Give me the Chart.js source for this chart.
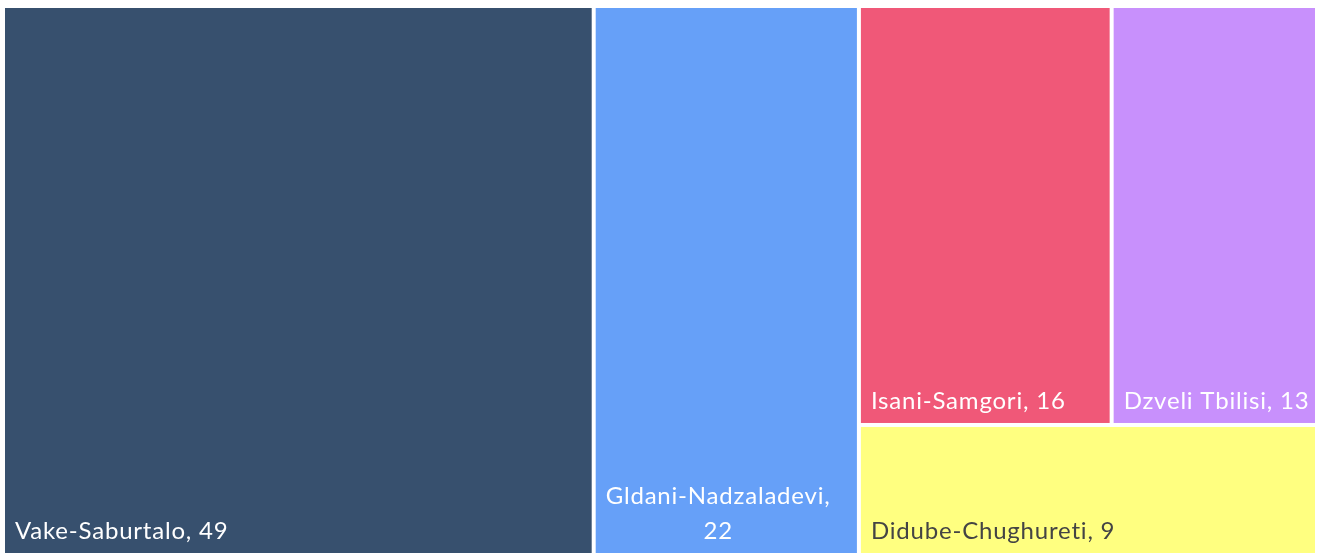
<!DOCTYPE html>
<html>
<head>
<meta charset="utf-8">
<script src="https://cdn.jsdelivr.net/npm/chart.js@4.4.1/dist/chart.umd.min.js"></script>
<style>
  html, body { margin: 0; padding: 0; background: #fff; overflow: hidden; }
  #wrap { position: relative; width: 1317px; height: 555px; }
</style>
</head>
<body>
<div id="wrap"><canvas id="treemap"></canvas></div>
<script>
// Datos
const districts = ['Vake-Saburtalo', 'Gldani-Nadzaladevi', 'Isani-Samgori', 'Dzveli Tbilisi', 'Didube-Chughureti'];
const counts = [49, 22, 16, 13, 9];
const tileColors = ['#37506e', '#66a0f8', '#f05878', '#c890fc', '#ffff80'];
const textColors = ['#ffffff', '#ffffff', '#ffffff', '#ffffff', '#444444'];

// layout space (squarified, ratio 1)
const LAYOUT_W = 250, LAYOUT_H = 100;

function squarify(values, x0, y0, x1, y1) {
  const out = [];
  const n = values.length;
  let value = values.reduce((a, b) => a + b, 0);
  let i0 = 0, i1 = 0;
  while (i0 < n) {
    const dx = x1 - x0, dy = y1 - y0;
    let sum = values[i1++], minV = sum, maxV = sum;
    const alpha = Math.max(dy / dx, dx / dy) / value;
    let beta = sum * sum * alpha;
    let minRatio = Math.max(maxV / beta, beta / minV);
    for (; i1 < n; i1++) {
      const v = values[i1];
      sum += v;
      if (v < minV) minV = v;
      if (v > maxV) maxV = v;
      beta = sum * sum * alpha;
      const r = Math.max(maxV / beta, beta / minV);
      if (r > minRatio) { sum -= v; break; }
      minRatio = r;
    }
    if (dx < dy) {
      const h = dy * sum / value;
      let x = x0;
      for (let k = i0; k < i1; k++) {
        const w = dx * values[k] / sum;
        out[k] = { x0: x, y0: y0, x1: x + w, y1: y0 + h };
        x += w;
      }
      y0 += h;
    } else {
      const w = dx * sum / value;
      let y = y0;
      for (let k = i0; k < i1; k++) {
        const h = dy * values[k] / sum;
        out[k] = { x0: x0, y0: y, x1: x0 + w, y1: y + h };
        y += h;
      }
      x0 += w;
    }
    value -= sum;
    i0 = i1;
  }
  return out;
}

const tiles = squarify(counts, 0, 0, LAYOUT_W, LAYOUT_H);

const FONT = '24px Lato';
const GAP = 2;      // half of the white gap between tiles
const PAD = 10;     // text padding
const LINE_H = 35;

const treemapPlugin = {
  id: 'treemapTiles',
  beforeDatasetsDraw(chart) {
    const ctx = chart.ctx;
    const xs = chart.scales.x, ys = chart.scales.y;
    ctx.save();
    tiles.forEach((t, i) => {
      const left = xs.getPixelForValue(t.x0) + GAP;
      const right = xs.getPixelForValue(t.x1) - GAP;
      const top = ys.getPixelForValue(t.y0) + GAP;
      const bottom = ys.getPixelForValue(t.y1) - GAP;
      ctx.fillStyle = tileColors[i];
      ctx.fillRect(left, top, right - left, bottom - top);

      // etiqueta
      ctx.font = FONT;
      ctx.letterSpacing = '0.8px';
      ctx.fillStyle = textColors[i];
      ctx.textBaseline = 'alphabetic';
      const text = districts[i] + ', ' + counts[i];
      const maxW = right - left - PAD - 4;
      let lines = [text];
      if (ctx.measureText(text).width > maxW) {
        lines = [];
        let cur = '';
        text.split(' ').forEach(word => {
          const test = cur ? cur + ' ' + word : word;
          if (cur && ctx.measureText(test).width > maxW) {
            lines.push(cur);
            cur = word;
          } else {
            cur = test;
          }
        });
        if (cur) lines.push(cur);
      }
      const blockW = Math.max(...lines.map(l => ctx.measureText(l).width));
      const baseY = bottom - 14;
      lines.forEach((line, k) => {
        const y = baseY - (lines.length - 1 - k) * LINE_H;
        if (lines.length > 1) {
          ctx.textAlign = 'center';
          ctx.fillText(line, left + PAD + blockW / 2, y);
        } else {
          ctx.textAlign = 'left';
          ctx.fillText(line, left + PAD, y);
        }
      });
    });
    ctx.restore();
  }
};

new Chart(document.getElementById('treemap'), {
  type: 'scatter',
  data: {
    datasets: [{
      data: tiles.map((t, i) => ({ x: (t.x0 + t.x1) / 2, y: (t.y0 + t.y1) / 2, v: counts[i] })),
      pointRadius: 0,
      pointHoverRadius: 0
    }]
  },
  options: {
    responsive: true,
    maintainAspectRatio: false,
    animation: false,
    layout: { padding: { left: 3, top: 6, right: 0, bottom: 0 } },
    scales: {
      x: { type: 'linear', min: 0, max: LAYOUT_W, display: false },
      y: { type: 'linear', min: 0, max: LAYOUT_H, reverse: true, display: false }
    },
    plugins: { legend: { display: false }, tooltip: { enabled: false } }
  },
  plugins: [treemapPlugin]
});
</script>
</body>
</html>
